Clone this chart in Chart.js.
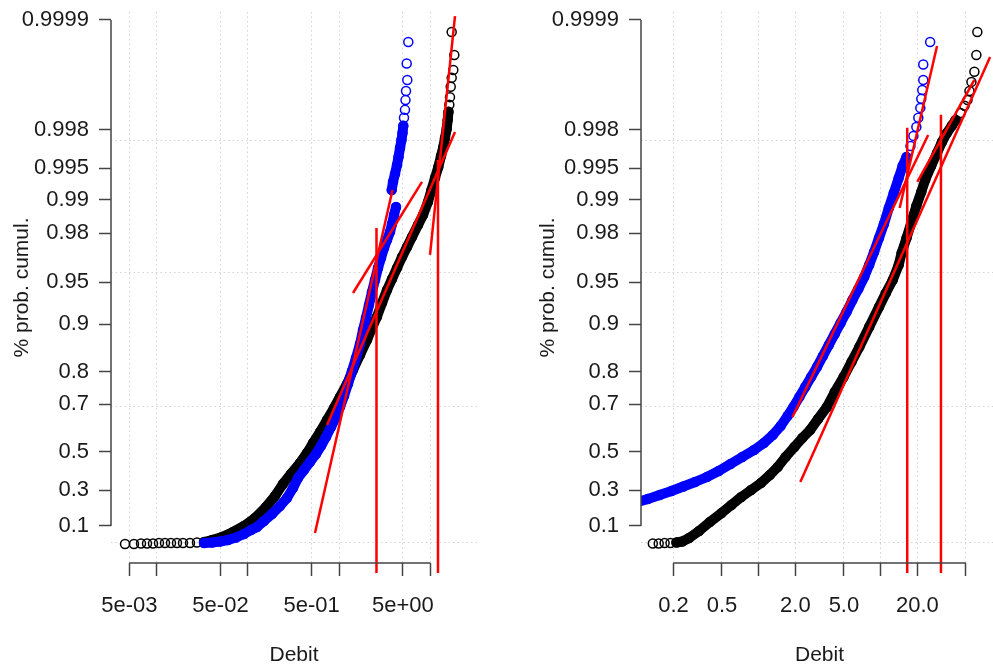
<!DOCTYPE html>
<html>
<head>
<meta charset="utf-8">
<script src="https://cdn.jsdelivr.net/npm/chart.js@4.4.1/dist/chart.umd.min.js"></script>
<style>
body { margin: 0; background: #fff; overflow: hidden; }
#gauche { position: absolute; left: 0; top: 0; }
#droite { position: absolute; left: 496px; top: 0; }
</style>
</head>
<body>
<canvas id="gauche" width="496" height="666"></canvas>
<canvas id="droite" width="508" height="666"></canvas>
<script>
// axe des probabilites cumulees
const probTicks = [0.1, 0.3, 0.5, 0.7, 0.8, 0.9, 0.95, 0.98, 0.99, 0.995, 0.998, 0.9999];
const probGrid = [0.0074, 0.68945, 0.9576, 0.99738];

// axes des debits
const debitTicksG = [0.005, 0.01, 0.05, 0.1, 0.5, 1, 5, 10];
const debitLabelsG = ['5e-03', '', '5e-02', '', '5e-01', '', '5e+00', ''];
const debitTicksD = [0.2, 0.5, 1, 2, 5, 10, 20, 50];
const debitLabelsD = ['0.2', '0.5', '', '2.0', '5.0', '', '20.0', ''];

// panneau gauche : [debit, prob]
const noirGaucheBas = [[0.00449, 0.00208], [0.00563, 0.00208], [0.00672, 0.00474], [0.00782, 0.00474], [0.0091, 0.00474],
  [0.01058, 0.0074], [0.01231, 0.0074], [0.01433, 0.0074], [0.01667, 0.0074], [0.0194, 0.0074], [0.02315, 0.0074], [0.0276, 0.01006]];
const noirGauche = [[0.033, 0.01274], [0.0404, 0.02345], [0.0519, 0.03964], [0.0686, 0.06691], [0.0905, 0.1], [0.1194, 0.14454],
  [0.1577, 0.20616], [0.198, 0.26744], [0.242, 0.33322], [0.296, 0.38666], [0.372, 0.44356], [0.444, 0.49314], [0.517, 0.54053],
  [0.617, 0.58971], [0.736, 0.63977], [0.878, 0.6858], [1.021, 0.72447], [1.219, 0.76576], [1.419, 0.80512], [1.693, 0.84157],
  [2.02, 0.87256], [2.292, 0.89376], [2.6, 0.91103], [2.949, 0.92877], [3.347, 0.94282], [3.797, 0.9528], [4.31, 0.96127],
  [4.89, 0.9684], [5.55, 0.97387], [6.29, 0.97849], [7.32, 0.98306], [8.31, 0.98619], [9.42, 0.98951], [10.29, 0.9919],
  [11.25, 0.99379], [12.22, 0.99516], [13.09, 0.99625], [13.87, 0.99697], [14.47, 0.99756], [15.11, 0.99805],
  [15.5, 0.99844], [15.81, 0.99873]];
const noirGaucheHaut = [[16.14, 0.99894], [16.42, 0.99913], [16.72, 0.99934], [17.14, 0.99948], [17.85, 0.99958],
  [18.31, 0.999724], [17.14, 0.999857]];
const bleuGauche = [[0.033, 0.0074], [0.0404, 0.01006], [0.0494, 0.01541], [0.0604, 0.02345], [0.074, 0.03693],
  [0.0905, 0.05596], [0.108, 0.0779], [0.1257, 0.09446], [0.15, 0.1278], [0.1836, 0.16692], [0.2247, 0.21176],
  [0.2681, 0.25631], [0.3119, 0.31152], [0.3538, 0.36544], [0.4117, 0.40761], [0.479, 0.44862], [0.5575, 0.48827],
  [0.632, 0.52654], [0.7177, 0.56773], [0.814, 0.61102], [0.9235, 0.65164], [1.021, 0.68945], [1.1305, 0.72782],
  [1.25, 0.76576], [1.383, 0.80245], [1.53, 0.8347], [1.693, 0.86483], [1.826, 0.89044], [1.969, 0.90915],
  [2.124, 0.92638], [2.292, 0.94082], [2.472, 0.95196], [2.666, 0.96127], [2.876, 0.9678], [3.103, 0.97336],
  [3.347, 0.97718], [3.611, 0.98051], [3.797, 0.9834], [3.994, 0.98619], [4.2, 0.98833]];
const bleuGaucheMilieu = [[3.769, 0.9919], [3.894, 0.99321], [4.096, 0.99433], [4.31, 0.99538], [4.474, 0.99616],
  [4.647, 0.99689], [4.825, 0.99744], [4.95, 0.99784], [5.051, 0.99819]];
const bleuGaucheHaut = [[5.14, 0.99852], [5.271, 0.99879], [5.338, 0.99906], [5.407, 0.99926], [5.586, 0.99945],
  [5.503, 0.99965], [5.73, 0.999809]];
// droites ajustees ; les verticales descendent un peu sous l'axe des x
const droitesGauche = [
  [[0.5434, 0.06142], [3.845, 0.9919]],
  [[1.419, 0.9398], [8.1, 0.99321]],
  [[0.736, 0.61944], [18.63, 0.99789]],
  [[9.91, 0.96956], [18.63, 0.999911]],
  [[2.567, 0.98201], [2.567, -0.1416]],
  [[12.13, 0.99588], [12.13, -0.1416]]
];

// panneau droit
const noirDroiteBas = [[0.1355, 0.00474], [0.1514, 0.00474], [0.1693, 0.0074], [0.1892, 0.0074]];
const noirDroite = [[0.2115, 0.01006], [0.2363, 0.01541], [0.2692, 0.03423], [0.3242, 0.07241], [0.3977, 0.12222],
  [0.4969, 0.17252], [0.5984, 0.2173], [0.7202, 0.26188], [0.8671, 0.30054], [1.044, 0.33865], [1.234, 0.38137],
  [1.432, 0.42314], [1.661, 0.47359], [1.963, 0.52185], [2.278, 0.56324], [2.642, 0.59833], [3.066, 0.64378],
  [3.623, 0.68945], [4.204, 0.74091], [4.969, 0.78612], [5.765, 0.8253], [6.688, 0.85877], [8.052, 0.89539],
  [9.695, 0.92392], [11.04, 0.9398], [12.57, 0.95196], [14.06, 0.96334], [14.86, 0.97069], [16.3, 0.97806],
  [17.89, 0.98406], [19.63, 0.98858], [21.54, 0.99154], [23.2, 0.99351], [25.94, 0.99527], [29.0, 0.9965],
  [31.82, 0.99731], [34.92, 0.99784], [38.3, 0.99819], [41.26, 0.99844]];
const noirDroiteHaut = [[45.27, 0.99869], [48.76, 0.99891], [51.56, 0.99906], [53.51, 0.99926], [55.53, 0.99942],
  [58.71, 0.99956], [60.93, 0.999724], [62.07, 0.999857]];
const bleuDroite = [[0.09876, 0.23124], [0.1234, 0.25074], [0.1541, 0.27299], [0.1927, 0.29503], [0.2408, 0.31971],
  [0.3009, 0.34404], [0.3761, 0.37078], [0.4699, 0.40239], [0.5874, 0.43846], [0.7338, 0.47359], [0.9169, 0.50759],
  [1.104, 0.54053], [1.305, 0.57659], [1.514, 0.61524], [1.724, 0.65555], [1.927, 0.68945], [2.154, 0.72447],
  [2.408, 0.75667], [2.692, 0.78612], [3.009, 0.81288], [3.364, 0.83929], [3.761, 0.86283], [4.204, 0.88355],
  [4.699, 0.90169], [5.254, 0.9175], [5.874, 0.93224], [6.564, 0.9438], [7.338, 0.95445], [8.052, 0.96334],
  [8.837, 0.97124], [9.695, 0.97806], [10.64, 0.9834], [11.67, 0.98808], [12.81, 0.99135], [14.06, 0.99379],
  [15.14, 0.99527], [16.3, 0.99616]];
const bleuDroiteHaut = [[17.56, 0.99704], [18.57, 0.99768], [19.63, 0.99814], [20.37, 0.99852], [21.15, 0.99885],
  [21.54, 0.99909], [21.95, 0.99928], [22.36, 0.99945], [22.36, 0.99964], [25.46, 0.999809]];
const droitesDroite = [
  [[1.892, 0.65164], [24.53, 0.99773]],
  [[14.32, 0.98808], [29.0, 0.999786]],
  [[2.195, 0.34404], [79.0, 0.999708]],
  [[20.0, 0.99321], [58.71, 0.99945]],
  [[16.52, 0.9981], [16.52, -0.1416]],
  [[31.23, 0.99863], [31.23, -0.1416]]
];

Chart.defaults.font.family = "'Liberation Sans', Arial, sans-serif";
Chart.defaults.color = '#1a1a1a';

// echelle de probabilite : z = sqrt(-ln(1-p) + 0.3)
function probToZ(p) {
  return Math.sqrt(-Math.log(1 - p) + 0.3);
}

class ProbScale extends Chart.Scale {
  determineDataLimits() {
    this.min = this.options.min;
    this.max = this.options.max;
  }
  buildTicks() {
    return this.options.graduations.map(v => ({ value: v }));
  }
  configure() {
    super.configure();
    this._z0 = probToZ(this.min);
    this._zr = probToZ(this.max) - this._z0;
  }
  getPixelForValue(v) {
    return this.getPixelForDecimal((probToZ(v) - this._z0) / this._zr);
  }
  getValueForPixel(px) {
    const z = this._z0 + this.getDecimalForPixel(px) * this._zr;
    return 1 - Math.exp(-(z * z - 0.3));
  }
}
ProbScale.id = 'probability';
ProbScale.defaults = {};
Chart.register(ProbScale);

// axes a la R : le trait ne va que de la premiere a la derniere graduation
const axesR = {
  id: 'axesR',
  afterDraw(chart) {
    const ctx = chart.ctx, x = chart.scales.x, y = chart.scales.y;
    const xs = x.ticks.map(t => x.getPixelForValue(t.value));
    const ys = y.ticks.map(t => y.getPixelForValue(t.value));
    ctx.save();
    ctx.strokeStyle = '#444';
    ctx.lineWidth = 1.5;
    ctx.beginPath();
    ctx.moveTo(Math.min(...xs), x.top);
    ctx.lineTo(Math.max(...xs), x.top);
    ctx.moveTo(y.right, Math.min(...ys));
    ctx.lineTo(y.right, Math.max(...ys));
    ctx.stroke();
    ctx.restore();
  }
};

function bande(data, couleur) {
  return {
    data: data, showLine: true, borderColor: couleur, borderWidth: 10,
    borderCapStyle: 'round', borderJoinStyle: 'round',
    pointRadius: 4.5, pointBorderWidth: 1.5, pointBorderColor: couleur,
    pointBackgroundColor: 'rgba(0,0,0,0)', clip: 0
  };
}
function cercles(data, couleur) {
  return {
    data: data, showLine: false, pointRadius: 4.5, pointBorderWidth: 1.5,
    pointBorderColor: couleur, pointBackgroundColor: 'rgba(0,0,0,0)', clip: 0
  };
}
function droite(data) {
  return { data: data, showLine: true, borderColor: '#ff0000', borderWidth: 2.5, pointRadius: 0, clip: false };
}

function sansMarge(s) {
  s.paddingTop = 0; s.paddingBottom = 0; s.paddingLeft = 0; s.paddingRight = 0;
}

function panneau(id, series, droites, xr, largeurY, padTitre, padDroite) {
  const datasets = droites.map(droite).concat(series);
  new Chart(document.getElementById(id), {
    type: 'scatter',
    data: { datasets: datasets },
    plugins: [axesR],
    options: {
      responsive: false,
      animation: false,
      layout: { padding: { top: 12, right: padDroite, left: 0, bottom: 0 } },
      plugins: { legend: { display: false }, tooltip: { enabled: false } },
      scales: {
        x: {
          type: 'logarithmic', min: xr.min, max: xr.max, bounds: 'data',
          afterBuildTicks: s => { s.ticks = xr.ticks.map(v => ({ value: v })); },
          afterFit: s => { s.height = 103; sansMarge(s); },
          ticks: {
            autoSkip: false, maxRotation: 0, minRotation: 0, padding: 17,
            font: { size: 22 },
            callback: v => xr.labels[xr.ticks.indexOf(v)]
          },
          grid: { color: '#d3d3d3', lineWidth: 1, tickColor: '#444', tickWidth: 1.5, tickLength: 13, tickBorderDash: [] },
          border: { display: false, dash: [1.5, 3] },
          title: { display: true, text: 'Debit', font: { size: 21, lineHeight: 1 }, padding: { top: 0, bottom: 0.5 } }
        },
        y: {
          type: 'probability', position: 'left', min: -0.0947, max: 0.9999212, graduations: probTicks,
          afterFit: s => { s.width = largeurY; sansMarge(s); },
          ticks: { font: { size: 22 }, padding: 10 },
          grid: { drawOnChartArea: false, tickColor: '#444', tickWidth: 1.5, tickLength: 12, tickBorderDash: [] },
          border: { display: false },
          title: { display: true, text: '% prob. cumul.', font: { size: 21, lineHeight: 1 }, padding: { top: padTitre, bottom: 0 } }
        },
        yg: {
          type: 'probability', position: 'right', min: -0.0947, max: 0.9999212, graduations: probGrid,
          afterFit: s => { s.width = 0; sansMarge(s); },
          ticks: { display: false },
          grid: { color: '#d3d3d3', lineWidth: 1, drawTicks: false },
          border: { display: false, dash: [1.5, 3] }
        }
      }
    }
  });
}

panneau('gauche',
  [bande(bleuGauche, '#0000ff'), bande(bleuGaucheMilieu, '#0000ff'), cercles(bleuGaucheHaut, '#0000ff'),
   cercles(noirGaucheBas, '#000'), bande(noirGauche, '#000'), cercles(noirGaucheHaut, '#000')],
  droitesGauche,
  { min: 0.003151, max: 32.47, ticks: debitTicksG, labels: debitLabelsG },
  111, 11.5, 19);

panneau('droite',
  [bande(bleuDroite, '#0000ff'), cercles(bleuDroiteHaut, '#0000ff'),
   cercles(noirDroiteBas, '#000'), bande(noirDroite, '#000'), cercles(noirDroiteHaut, '#000')],
  droitesDroite,
  { min: 0.1084, max: 91.7, ticks: debitTicksD, labels: debitLabelsD },
  145, 41.5, 0);
</script>
</body>
</html>
